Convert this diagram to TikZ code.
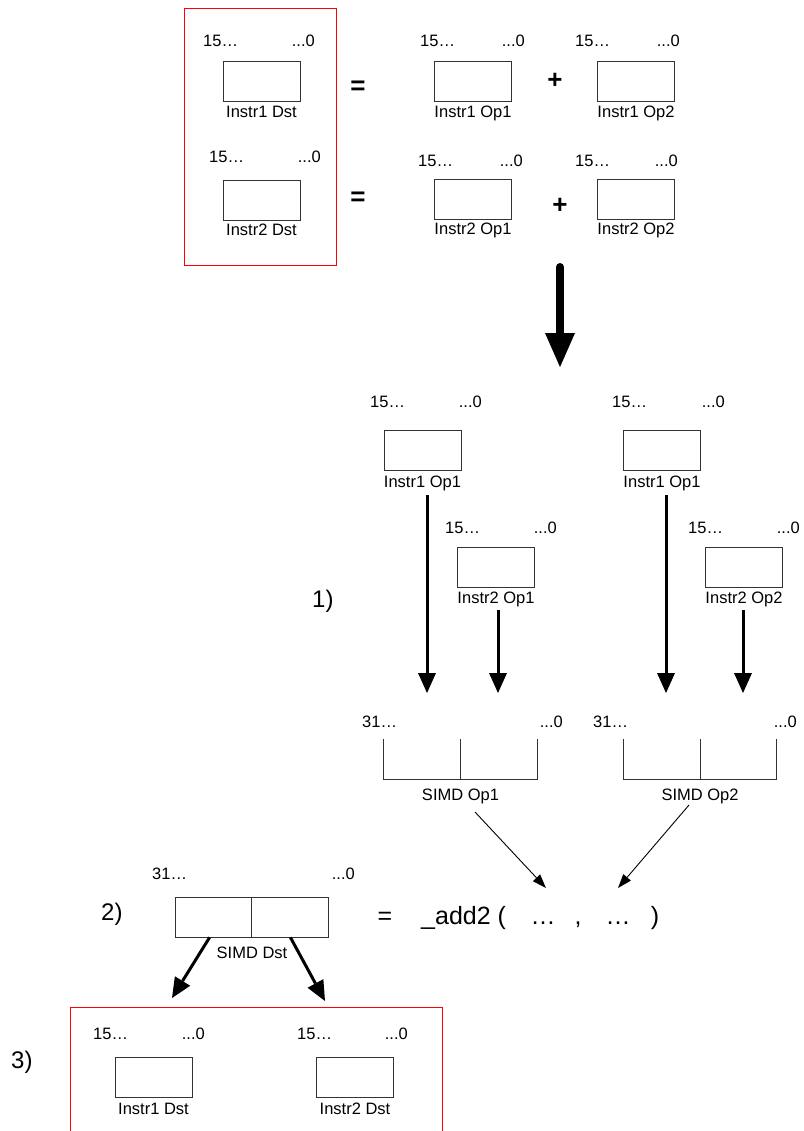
\documentclass[tikz,border=0pt]{standalone}
\usepackage{fontspec}
\setmainfont{Liberation Sans}
\usetikzlibrary{arrows.meta}
\begin{document}
\begin{tikzpicture}[x=1pt,y=-1pt,
  boxline/.style={draw=black!80, line width=0.9pt},
  reg/.style={boxline, minimum width=77pt, minimum height=40pt, inner sep=0pt},
  simd/.style={minimum width=153pt, minimum height=40pt, inner sep=0pt},
  lab/.style={font=\fontsize{16.5}{18}\selectfont, inner sep=0pt},
  bitl/.style={lab, anchor=base west},
  bitr/.style={lab, anchor=base east},
  regname/.style={lab, anchor=base},
  stepno/.style={font=\fontsize{24}{28}\selectfont, inner sep=0pt, anchor=base west},
  opsym/.style={font=\bfseries\fontsize{26}{30}\selectfont, inner sep=0pt, anchor=base},
  expr/.style={font=\fontsize{25}{30}\selectfont, inner sep=0pt, anchor=base},
  redbox/.style={draw=red, line width=1pt},
  thickarrow/.style={line width=3pt, -{Triangle[length=20pt,width=18pt,line width=0pt]}},
  thinarrow/.style={line width=0.9pt, -{Triangle[length=14pt,width=10pt,line width=0pt]}},
  hugearrow/.style={line width=8pt, line cap=round, -{Triangle[length=34pt,width=30pt,line width=0pt]}}
]
\useasboundingbox (0,0) rectangle (803,1131);
\clip (0,0) rectangle (803,1131);

% ---------- top section ----------
\draw[redbox] (184,9) rectangle (336,266);

\node[reg] (d1) at (261.5,81) {};
\node[regname] (d1n) at (261.5,118) {Instr1 Dst};
\node[bitl] (d1l) at (203,47) {15…};
\node[bitr] (d1r) at (315,47) {...0};

\node[reg] (d2) at (261.5,200) {};
\node[regname] (d2n) at (261.5,236) {Instr2 Dst};
\node[bitl] (d2l) at (209,163) {15…};
\node[bitr] (d2r) at (321,163) {...0};

\node[opsym] (eq1) at (358,95) {=};
\node[opsym] (eq2) at (358,206) {=};

\node[reg] (a1) at (473,81) {};
\node[regname] (a1n) at (473,118) {Instr1 Op1};
\node[bitl] (a1l) at (420,47) {15…};
\node[bitr] (a1r) at (525,47) {...0};

\node[opsym] (pl1) at (555,89) {+};

\node[reg] (b1) at (636,81) {};
\node[regname] (b1n) at (636,118) {Instr1 Op2};
\node[bitl] (b1l) at (575,47) {15…};
\node[bitr] (b1r) at (680,47) {...0};

\node[reg] (a2) at (473,199.5) {};
\node[regname] (a2n) at (473,235) {Instr2 Op1};
\node[bitl] (a2l) at (418,167) {15…};
\node[bitr] (a2r) at (523,167) {...0};

\node[opsym] (pl2) at (560,214) {+};

\node[reg] (b2) at (636,199.5) {};
\node[regname] (b2n) at (636,235) {Instr2 Op2};
\node[bitl] (b2l) at (575,167) {15…};
\node[bitr] (b2r) at (678,167) {...0};

% big arrow
\coordinate (hs) at (560,267);
\coordinate (he) at (560,367);
\draw[hugearrow] (hs) -- (he);

% ---------- step 1 ----------
\node[stepno] (s1no) at (312,607) {1)};

\node[reg] (m1) at (422.5,450.5) {};
\node[regname] (m1n) at (422.5,487) {Instr1 Op1};
\node[bitl] (m1l) at (370,407) {15…};
\node[bitr] (m1r) at (482,407) {...0};

\node[reg] (m2) at (496,567) {};
\node[regname] (m2n) at (496,603) {Instr2 Op1};
\node[bitl] (m2l) at (445,533) {15…};
\node[bitr] (m2r) at (557,533) {...0};

\node[reg] (m3) at (662,450.5) {};
\node[regname] (m3n) at (662,487) {Instr1 Op1};
\node[bitl] (m3l) at (612,407) {15…};
\node[bitr] (m3r) at (725,407) {...0};

\node[reg] (m4) at (744,567) {};
\node[regname] (m4n) at (744,603) {Instr2 Op2};
\node[bitl] (m4l) at (688,533) {15…};
\node[bitr] (m4r) at (800,533) {...0};

\coordinate (v1s) at (427,495); \coordinate (v1e) at (427,693);
\coordinate (v2s) at (498,610); \coordinate (v2e) at (498,693);
\coordinate (v3s) at (666,495); \coordinate (v3e) at (666,693);
\coordinate (v4s) at (743,610); \coordinate (v4e) at (743,693);
\draw[thickarrow] (v1s) -- (v1e);
\draw[thickarrow] (v2s) -- (v2e);
\draw[thickarrow] (v3s) -- (v3e);
\draw[thickarrow] (v4s) -- (v4e);

% SIMD operand boxes (open top)
\node[simd] (so1) at (460.5,759) {};
\draw[boxline] (so1.north west) -- (so1.south west) -- (so1.south east) -- (so1.north east)
               (so1.north) -- (so1.south);
\node[regname] (so1n) at (460.5,800) {SIMD Op1};
\node[bitl] (so1l) at (362,727) {31…};
\node[bitr] (so1r) at (563,727) {...0};

\node[simd] (so2) at (700,759) {};
\draw[boxline] (so2.north west) -- (so2.south west) -- (so2.south east) -- (so2.north east)
               (so2.north) -- (so2.south);
\node[regname] (so2n) at (700,800) {SIMD Op2};
\node[bitl] (so2l) at (593,727) {31…};
\node[bitr] (so2r) at (797,727) {...0};

% ---------- step 2 ----------
\node[stepno] (s2no) at (101,920) {2)};

\node[simd, boxline] (sd) at (251.5,917) {};
\draw[boxline] (sd.north) -- (sd.south);
\node[regname] (sdn) at (252,958) {SIMD Dst};
\node[bitl] (sdl) at (152,879) {31…};
\node[bitr] (sdr) at (355,879) {...0};

\node[expr] (eq3) at (385,924) {=};
\node[expr, anchor=base west] (fn) at (421,924) {\_add2 (};
\node[expr] (e1) at (543,924) {…};
\node[expr] (cm) at (578,924) {,};
\node[expr] (e2) at (618,924) {…};
\node[expr] (rp) at (655,924) {)};

\coordinate (p1s) at (475,812); \coordinate (p1e) at (546,888);
\coordinate (p2s) at (689,805); \coordinate (p2e) at (618,888);
\draw[thinarrow] (p1s) -- (p1e);
\draw[thinarrow] (p2s) -- (p2e);

% ---------- step 3 ----------
\coordinate (t1) at (172,998);
\coordinate (t2) at (325,1001);
\draw[thickarrow] ([xshift=35pt]sd.south west) -- (t1);
\draw[thickarrow] ([xshift=-38pt]sd.south east) -- (t2);

\node[stepno] (s3no) at (11,1068) {3)};
\draw[redbox] (70,1007) rectangle (442,1145);

\node[reg] (f1) at (153.5,1077) {};
\node[regname] (f1n) at (153.5,1114) {Instr1 Dst};
\node[bitl] (f1l) at (93,1039) {15…};
\node[bitr] (f1r) at (205,1039) {...0};

\node[reg] (f2) at (355,1077) {};
\node[regname] (f2n) at (355,1114) {Instr2 Dst};
\node[bitl] (f2l) at (297,1039) {15…};
\node[bitr] (f2r) at (408,1039) {...0};
\end{tikzpicture}
\end{document}
